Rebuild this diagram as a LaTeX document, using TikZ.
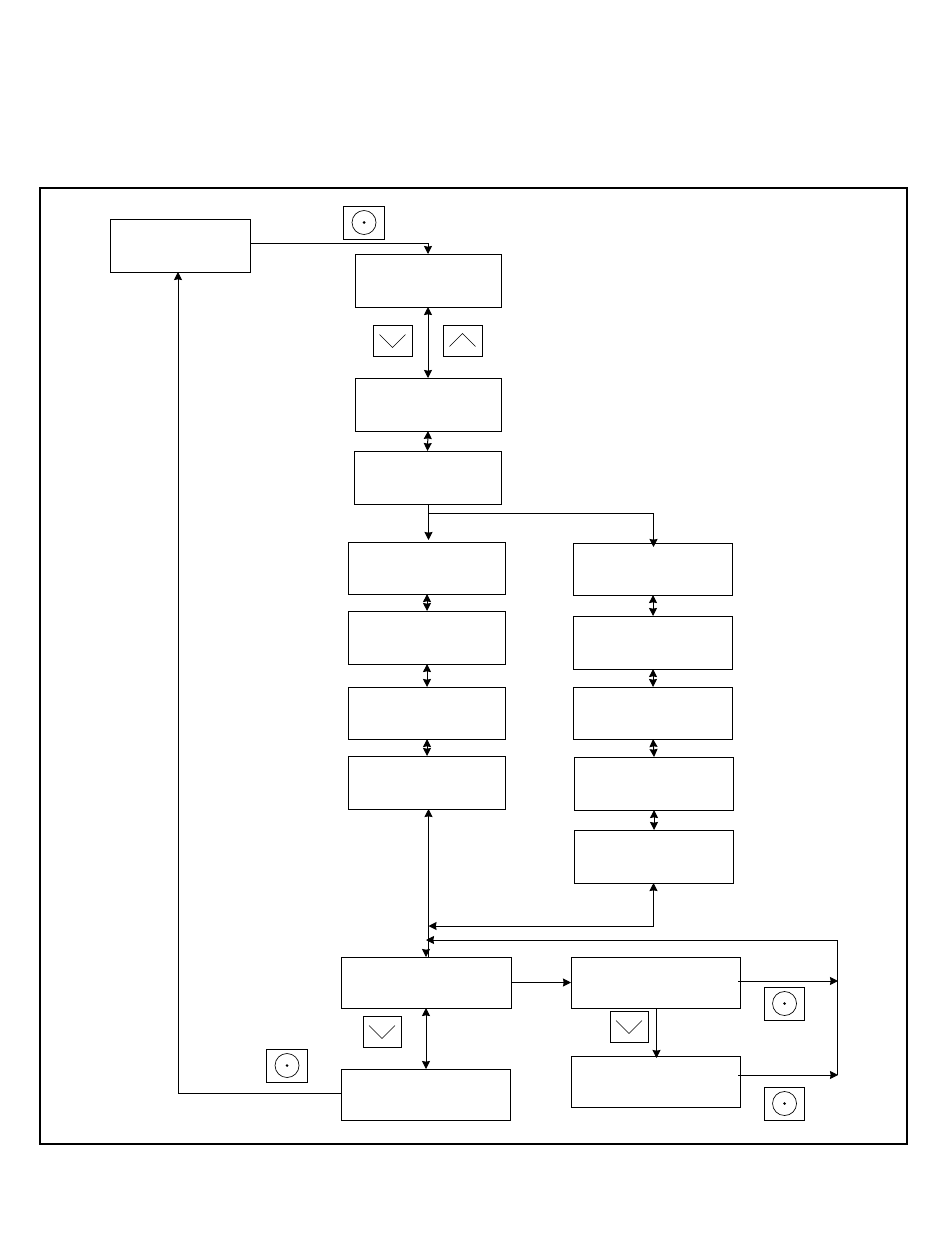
\documentclass[tikz,border=0pt]{standalone}
\usetikzlibrary{arrows.meta}
\tikzset{
  >={Stealth[length=6pt,width=6pt,inset=0.5pt]},
  line/.style={line width=0.75pt},
  keymark/.style={line width=0.5pt},
  boxnode/.style={draw, line width=0.75pt, inner sep=0pt, outer sep=0pt, anchor=north west}
}
\begin{document}
\begin{tikzpicture}[x=0.75pt, y=-0.75pt]
  \useasboundingbox (0,0) rectangle (950,1260);

  \node[boxnode, line width=1.5pt, minimum width=650.25pt, minimum height=717pt] (frame) at (40,187.5) {};

  \foreach \name/\l/\t/\r/\b in {
    menu/110/219/250/272,
    a1/355/254/501/307,    a2/355/378/501/431,    a3/354/451/501/504,
    l1/348/542/505/594,    l2/348/611/505/664,    l3/348/687/505/739,    l4/348/756/505/809,
    r1/573/543/732/595,    r2/573/616/732/669,    r3/573/687/732/739,
    r4/574/757/733/810,    r5/574/830/733/883,
    b1/341/957/511/1008,   b2/341/1069/510/1120,
    c1/571/957/740/1008,   c2/571/1056/740/1107
  }{
    \node[boxnode, minimum width=0.75pt*(\r-\l), minimum height=0.75pt*(\b-\t)] (\name) at (\l,\t) {};
  }

  % keys
  \foreach \name/\l/\t/\r/\b in {
    ok1/343/206/384/239,   ok2/764/987/804/1020,
    ok3/764/1087/804/1120, ok4/266/1049/307/1082,
    dn1/373/325/412/356,   dn2/363/1016/401/1047,
    dn3/610/1011/648/1042, up1/443/325/482/356
  }{
    \node[boxnode, minimum width=0.75pt*(\r-\l), minimum height=0.75pt*(\b-\t)] (\name) at (\l,\t) {};
  }
  \foreach \name in {ok1,ok2,ok3,ok4}{
    \draw[keymark] ([xshift=0.4pt]\name.center) circle[radius=9pt];
    \fill ([xshift=0.4pt]\name.center) circle[radius=1.1pt];
  }
  \foreach \name in {dn1,dn2,dn3}{
    \draw[keymark] ([shift={(-13,-6)}]\name.center) -- ([shift={(0,7)}]\name.center) -- ([shift={(13,-6)}]\name.center);
  }
  \draw[keymark] ([shift={(-13,6)}]up1.center) -- ([shift={(0,-7)}]up1.center) -- ([shift={(13,6)}]up1.center);

  \coordinate (j1) at (250,243);
  \coordinate (j2) at (428,513.5);
  \coordinate (j3) at (428.5,926);
  \coordinate (j4) at (426,940);
  \coordinate (j5) at (178,272);
  \coordinate (j6) at (738,981);
  \coordinate (j7) at (738,1075);
  \coordinate (j8) at (838,981);
  \coordinate (j9) at (838,1075);
  \coordinate (j10) at (428.5,809);
  \coordinate (j11) at (428.5,950);
  \coordinate (j12) at (341,1093);
  \coordinate (j13) at (653.5,547);
  \coordinate (j14) at (837,1075);
  \coordinate (j15) at (656.5,1008);
  \coordinate (j16) at (656.5,1058);
  \coordinate (j17) at (428.5,540);
  \coordinate (j18) at (428.5,504);

  \draw[line, ->] (j1) -| (a1.north);
  \draw[line, <->] (a1.south) -- (a2.north);
  \draw[line, <->] (a2.south) -- (a3.north);
  \draw[line, ->] (j18) -- (j17);
  \draw[line, ->] (j2) -| (j13);

  \foreach \from/\to in {l1/l2, l2/l3, l3/l4, r1/r2, r2/r3, r3/r4, r4/r5}{
    \draw[line, <->] ([xshift=0.4pt]\from.south) -- ([xshift=0.4pt]\to.north);
  }

  \draw[line, ->] (j11) -- (j10);
  \draw[line] (j11) -- (b1.north -| j11);
  \draw[line, ->] (b1.north |- j11) -- (b1.north);
  \draw[line, <->] (r5.south) |- (j3);
  \draw[line, ->] (j14) -- (j14 |- j4) -- (j4);
  \draw[line, ->] (j6) -- (j8);
  \draw[line, ->] (j7) -- (j9);
  \draw[line, ->] (b1.east) -- (c1.west);
  \draw[line, <->] (b1.south) -- (b1.south |- b2.north);
  \draw[line, ->] (j15) -- (j16);
  \draw[line, ->] (j12) -| (j5);
\end{tikzpicture}
\end{document}
